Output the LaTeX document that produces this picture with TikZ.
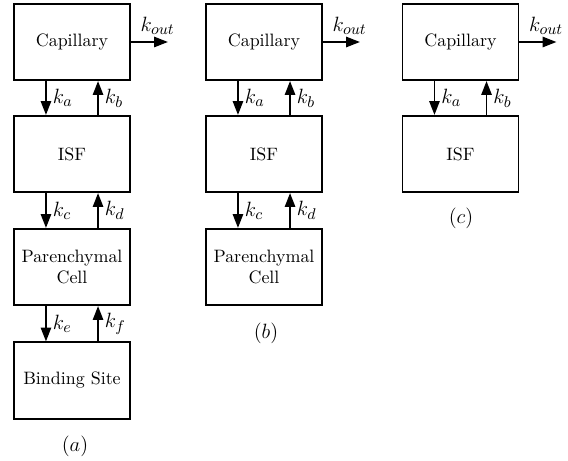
\documentclass[tikz,border=0pt]{standalone}
\usetikzlibrary{arrows.meta}
\begin{document}
\begin{tikzpicture}[x=0.58pt,y=-0.58pt,
  box/.style={draw,line width=0.95pt,minimum width=67.3pt,minimum height=44.4pt,
    inner sep=0pt,align=center,font=\fontsize{10.4}{12}\selectfont},
  flow/.style={line width=0.95pt,-{Triangle[length=8pt,width=6pt]}},
  rate/.style={inner sep=3.5pt,font=\fontsize{13}{15}\selectfont},
  figlabel/.style={font=\fontsize{11.5}{13}\selectfont}]
\useasboundingbox (0,0) rectangle (568,461);

% column (a)
\node[box] (capA) at (72,42) {Capillary};
\node[box] (isfA) at (72,154) {ISF};
\node[box] (parA) at (72,267) {Parenchymal\\Cell};
\node[box] (binA) at (72,380.5) {Binding Site};
\node[figlabel] (capta) at (75,446) {$(a)$};

% column (b)
\node[box] (capB) at (264,42) {Capillary};
\node[box] (isfB) at (264,154) {ISF};
\node[box] (parB) at (264,267) {Parenchymal\\Cell};
\node[figlabel] (captb) at (266,333) {$(b)$};

% column (c)
\node[box] (capC) at (460.5,42) {Capillary};
\node[box] (isfC) at (460.5,154) {ISF};
\node[figlabel] (captc) at (461,218) {$(c)$};

% exchange arrows between stacked compartments
\foreach \up/\lo/\kd/\ku in {capA/isfA/a/b, isfA/parA/c/d, parA/binA/e/f,
                             capB/isfB/a/b, isfB/parB/c/d,
                             capC/isfC/a/b}{
  \draw[flow] ([xshift=-15.1pt]\up.south) -- node[right,rate]{$k_\kd$} ([xshift=-15.1pt]\lo.north);
  \draw[flow] ([xshift=15.1pt]\lo.north) -- node[right,rate]{$k_\ku$} ([xshift=15.1pt]\up.south);
}

% elimination from the capillary
\foreach \c in {A,B,C}{
  \coordinate (out\c) at ([xshift=21.5pt]cap\c.east);
  \draw[flow] (cap\c.east) -- (out\c);
  \node[rate,anchor=south,inner sep=1pt] at ([xshift=-6pt,yshift=3pt]out\c) {$k_{out}$};
}
\end{tikzpicture}
\end{document}
